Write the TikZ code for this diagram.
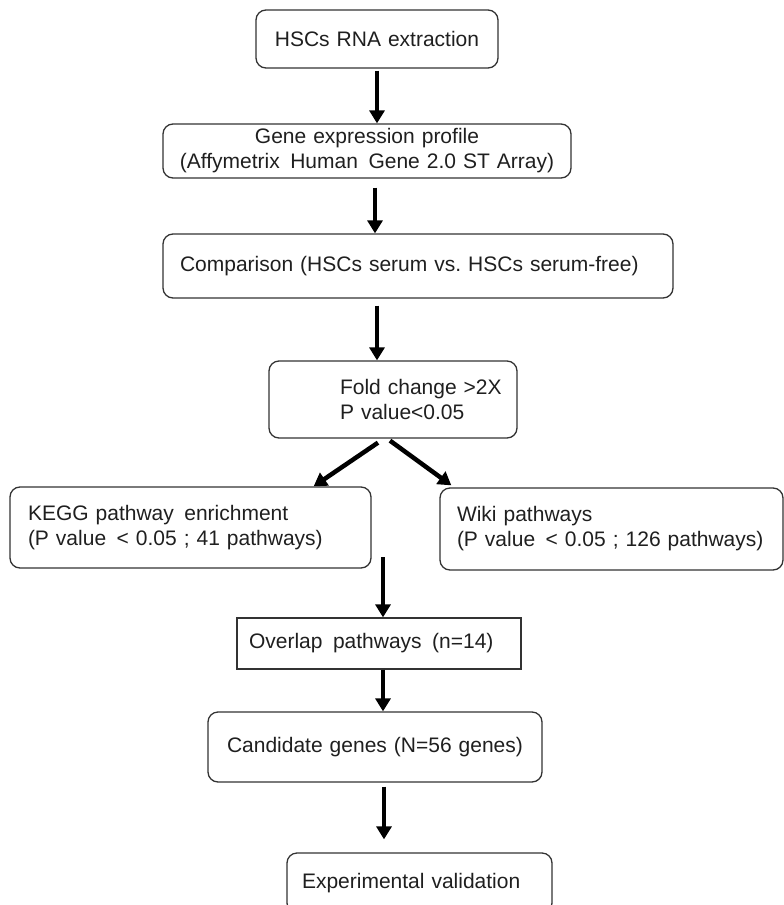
\documentclass[tikz,border=0pt]{standalone}
\usepackage{fontspec}
\setmainfont{Liberation Sans}
\usetikzlibrary{arrows.meta,calc}
\begin{document}
\begin{tikzpicture}[x=1pt,y=-1pt,
  box/.style={draw=black!80, line width=1.3pt, rounded corners=10pt, inner xsep=0pt, inner ysep=0pt,
    font=\fontsize{21}{25}\selectfont, text=black!88},
  sqbox/.style={box, rounded corners=0pt},
  flow/.style={line width=4.5pt, -{Triangle[length=13pt,width=15pt]}}]
\useasboundingbox (0,0) rectangle (784,905);

\node[box, minimum width=242pt, minimum height=58pt, text width=242pt, align=center] (n1) at (377,39) {HSCs RNA extraction};
\node[box, minimum width=408pt, minimum height=54pt, text width=408pt, align=center] (n2) at (367,151) {Gene expression profile\\(Affymetrix\, Human\, Gene 2.0 ST Array)};
\node[box, minimum width=510pt, minimum height=64pt, text width=510pt, align=left] (n3) at (418,266) {\hspace*{17pt}Comparison (HSCs serum vs.\ HSCs serum-free)};
\node[box, minimum width=248pt, minimum height=77pt, text width=248pt, align=left] (n4) at (393,399.5) {\hspace*{71pt}Fold change >2X\\\hspace*{71pt}P value<0.05};
\node[box, minimum width=361pt, minimum height=81pt, text width=361pt, align=left] (n5) at (190.5,527.5) {\hspace*{18pt}KEGG pathway\, enrichment\\\hspace*{18pt}(P value\, < 0.05 ; 41 pathways)};
\node[box, minimum width=343pt, minimum height=82pt, text width=343pt, align=left] (n6) at (611.5,529) {\hspace*{17pt}Wiki pathways\\\hspace*{17pt}(P value\, < 0.05 ; 126 pathways)};
\node[sqbox, minimum width=284pt, minimum height=51pt, text width=284pt, align=left] (n7) at (379,643.5) {\hspace*{12pt}Overlap\, pathways\, (n=14)};
\node[box, minimum width=334pt, minimum height=70pt, text width=334pt, align=center] (n8) at (375,747) {Candidate genes (N=56 genes)};
\node[box, minimum width=265pt, minimum height=60pt, text width=265pt, align=left] (n9) at (419.5,883) {\hspace*{15pt}Experimental validation};

\draw[flow, shorten <=2pt] (n1.south) -- (n1.south |- n2.north);
\draw[flow, shorten <=9pt] ($(n2.south)+(8,0)$) -- ($(n3.north)+(-43,0)$);
\draw[flow, shorten <=7pt] ($(n3.south)+(-41,0)$) -- ($(n4.north)+(-16,0)$);
\draw[flow] ($(n4.south)+(-15,4)$) -- ($(n5.north east)+(-58,0)$);
\draw[flow] ($(n4.south)+(-3,2)$) -- ($(n6.north west)+(12,-2)$);
\draw[flow] ($(n7.north)+(4,-60)$) -- ($(n7.north)+(4,0)$);
\draw[flow] ($(n7.south)+(4,0)$) -- ($(n8.north)+(8,0)$);
\draw[flow, shorten <=4pt] ($(n8.south)+(9,0)$) -- ($(n9.north)+(-35.5,-13)$);
\end{tikzpicture}
\end{document}
